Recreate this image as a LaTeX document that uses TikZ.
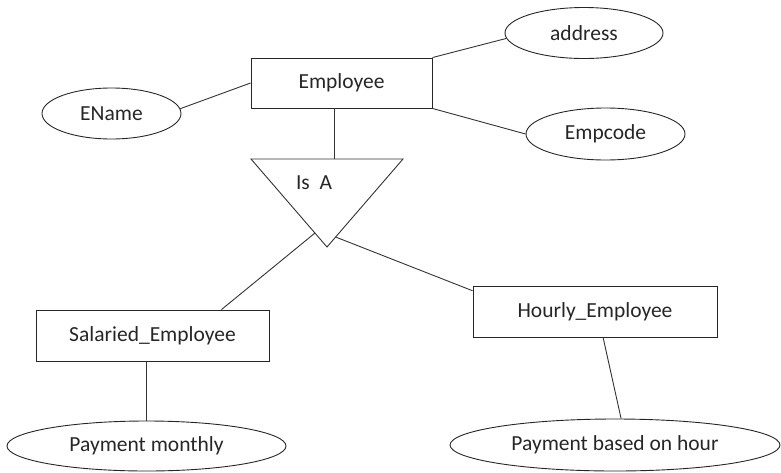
\documentclass[tikz,border=0pt]{standalone}
\usepackage{fontspec}
\setmainfont{Carlito}
\usetikzlibrary{shapes.geometric,calc}
\begin{document}
\begin{tikzpicture}[x=1pt,y=-1pt,
  every node/.style={font=\fontsize{21.5}{25}\selectfont, text=black!85},
  entity/.style={draw=black!85, line width=0.9pt, rectangle, inner sep=0pt},
  attr/.style={draw=black!85, line width=0.9pt, ellipse, inner sep=0pt},
  conn/.style={draw=black!80, line width=0.9pt}]
\useasboundingbox (0,0) rectangle (781,472);
% entities
\node[entity, minimum width=181pt, minimum height=50pt] (emp) at (341.5,83) {Employee};
\node[entity, minimum width=233pt, minimum height=51pt] (sal) at (152.5,335.5) {Salaried\_Employee};
\node[entity, minimum width=244pt, minimum height=51pt] (hour) at (595,311.5) {Hourly\_Employee};
% attributes
\node[attr, minimum width=158pt, minimum height=51pt] (addr) at (584,33) {address};
\node[attr, minimum width=159pt, minimum height=52pt] (empc) at (605.5,134) {Empcode};
\node[attr, minimum width=139pt, minimum height=51pt] (ename) at (111.5,113.5) {EName};
\node[attr, minimum width=279pt, minimum height=50pt] (pm) at (146.5,446) {Payment monthly};
\node[attr, minimum width=330pt, minimum height=52pt] (pbh) at (615,445) {Payment based on hour};
% ISA triangle
\coordinate (tl) at (251,159);
\coordinate (tr) at (403,159);
\coordinate (tb) at (327,247);
\coordinate (ttop) at (334,159);
\coordinate (tls) at (315,233);
\coordinate (trs) at (335.6,237);
\draw[conn] (tl) -- (tr) -- (tb) -- cycle;
\node (isa) at (314,183) {Is\ \ A};
% connectors
\draw[conn] (emp.north east) -- (addr.184);
\draw[conn] (emp.south east) -- (empc.west);
\draw[conn] (ename.4) -- (emp.west);
\draw[conn] (ttop |- emp.south) -- (ttop);
\draw[conn] (tls) -- ($(sal.north west)!0.795!(sal.north east)$);
\draw[conn] (trs) -- ($(hour.north west)!0.1!(hour.south west)$);
\draw[conn] (pm.north |- sal.south) -- (pm.north);
\draw[conn] ($(hour.south west)!0.533!(hour.south east)$) -- (pbh.77);
\end{tikzpicture}
\end{document}
